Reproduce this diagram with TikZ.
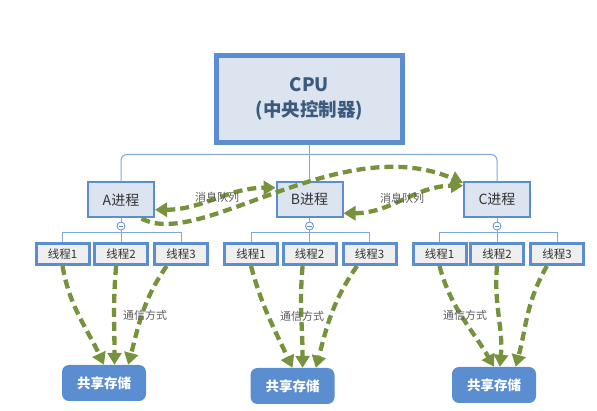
\documentclass[tikz,border=0pt]{standalone}
\usepackage{fontspec}
\setmainfont{Noto Sans CJK SC}
\usetikzlibrary{arrows.meta}
\definecolor{boxblue}{HTML}{5B8ED1}
\definecolor{linkblue}{HTML}{7EA8DC}
\definecolor{paleblue}{HTML}{DCE4F0}
\definecolor{palegray}{HTML}{EFEFEF}
\definecolor{olive}{HTML}{76923C}
\definecolor{cputext}{HTML}{3C5A7E}

\begin{document}
\begin{tikzpicture}[x=1pt,y=1pt]
\tikzstyle{cpubox}=[draw=boxblue, line width=4.5pt, fill=paleblue, minimum width=186pt, minimum height=87pt, align=center, text=cputext, font=\fontsize{18.5}{25}\selectfont\bfseries, inner sep=0pt]
\tikzstyle{procbox}=[draw=boxblue, line width=2pt, fill=paleblue, minimum width=66pt, minimum height=35pt, text=black!80, font=\fontsize{14}{16}\selectfont, inner sep=0pt]
\tikzstyle{threadbox}=[draw=boxblue, line width=3pt, fill=palegray, minimum width=53pt, minimum height=21pt, text=black!80, font=\fontsize{11.5}{13}\selectfont, inner sep=0pt]
\tikzstyle{storebox}=[fill=boxblue, rounded corners=7pt, minimum width=84pt, minimum height=36pt, text=white, font=\fontsize{13.5}{15}\selectfont\bfseries, inner sep=0pt]
\tikzstyle{fold}=[draw=boxblue, fill=white, circle, line width=0.8pt, minimum size=8pt, inner sep=0pt]
\tikzstyle{tree}=[draw=linkblue, line width=1pt]
\tikzstyle{msg}=[draw=olive, line width=4.3pt, dash pattern=on 9pt off 5pt, >={Triangle[length=12pt,width=14pt]}]
\tikzstyle{note}=[text=black!65, font=\fontsize{11}{13}\selectfont, inner sep=1pt]
\useasboundingbox (0,0) rectangle (597,-411);
\node[cpubox] (cpu) at (309.5,-99) {CPU\\(中央控制器)};
\node[procbox] (A) at (121,-200) {A进程};
\node[procbox] (B) at (309.5,-199.5) {B进程};
\node[procbox] (C) at (497,-199.5) {C进程};
\node[fold] (Am) at (121,-226) {};
\node[fold] (Bm) at (309.5,-226) {};
\node[fold] (Cm) at (497,-226) {};
\draw[boxblue, line width=0.8pt] ([xshift=-2.2pt]Am.center) -- ([xshift=2.2pt]Am.center);
\draw[boxblue, line width=0.8pt] ([xshift=-2.2pt]Bm.center) -- ([xshift=2.2pt]Bm.center);
\draw[boxblue, line width=0.8pt] ([xshift=-2.2pt]Cm.center) -- ([xshift=2.2pt]Cm.center);
\node[threadbox] (A1) at (62.5,-254) {线程1};
\node[threadbox] (A2) at (121,-254) {线程2};
\node[threadbox] (A3) at (181,-254) {线程3};
\node[threadbox] (B1) at (251,-254) {线程1};
\node[threadbox] (B2) at (309.5,-254) {线程2};
\node[threadbox] (B3) at (369.5,-254) {线程3};
\node[threadbox] (C1) at (439.5,-254) {线程1};
\node[threadbox] (C2) at (497,-254) {线程2};
\node[threadbox] (C3) at (557,-254) {线程3};
\node[storebox] (As) at (104,-383) {共享存储};
\node[storebox] (Bs) at (292.5,-386) {共享存储};
\node[storebox] (Cs) at (494,-385) {共享存储};
\draw[tree] (cpu.south) -- (B.north);
\draw[tree, rounded corners=6pt] (A.north) -- ++(0,27) -| (C.north);
\draw[tree] (A.south) -- (Am.north);
\draw[tree] (B.south) -- (Bm.north);
\draw[tree] (C.south) -- (Cm.north);
\draw[tree] (A1.north) -- ++(0,9) -| (A3.north);
\draw[tree] (B1.north) -- ++(0,9) -| (B3.north);
\draw[tree] (C1.north) -- ++(0,9) -| (C3.north);
\draw[tree] (Am.south) -- (A2.north);
\draw[tree] (Bm.south) -- (B2.north);
\draw[tree] (Cm.south) -- (C2.north);
\draw[msg,<->] (A.-16) to[out=0,in=180] (B.161);
\draw[msg,<->] (B.-22) to[out=0,in=180] (C.158);
\draw[msg,->] (A.-42) .. controls +(58,-32) and +(-123,53) .. (C.154);
\node[note] (mqab) at (217,-197) {消息队列};
\node[note] (mqbc) at (402,-198) {消息队列};
\draw[msg,->] (A1.south) to[out=-80,in=115] (As.north);
\draw[msg,->] (A2.-112) to[out=-95,in=90] (As.60);
\draw[msg,->] (A3.-140) to[out=-125,in=75] (As.37);
\draw[msg,->] (B1.south) to[out=-75,in=115] (Bs.north);
\draw[msg,->] (B2.-120) to[out=-95,in=90] (Bs.61);
\draw[msg,->] (B3.-136) to[out=-125,in=75] (Bs.38);
\draw[msg,->] (C1.south) to[out=-75,in=120] (Cs.north);
\draw[msg,->] (C2.south) to[out=-95,in=85] (Cs.72);
\draw[msg,->] (C3.-130) to[out=-120,in=75] (Cs.40);
\node[note] (ca) at (145,-315) {通信方式};
\node[note] (cb) at (302,-316) {通信方式};
\node[note] (cc) at (465,-315) {通信方式};
\end{tikzpicture}
\end{document}
